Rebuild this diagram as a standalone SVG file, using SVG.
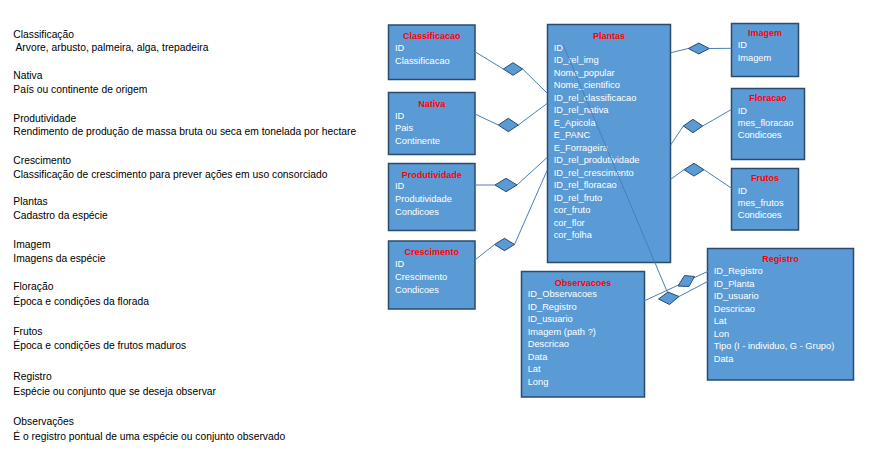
<svg xmlns="http://www.w3.org/2000/svg" width="879" height="454" viewBox="0 0 879 454">
<style>
.bg{fill:#fff}
.box{fill:#5B9BD5;stroke:#2A4A6E;stroke-width:1.5}
.t{font-family:"Liberation Sans",Arial,sans-serif;font-size:9px;font-weight:bold;fill:#FF0000;text-anchor:middle}
.f{font-family:"Liberation Sans",Arial,sans-serif;font-size:9.3px;fill:#FFFFFF}
.d{font-family:"Liberation Sans",Arial,sans-serif;font-size:10.3px;fill:#000000}
.c{stroke:#4A7EBB;stroke-width:1;fill:none}
.dm{fill:#5B9BD5;stroke:#2A4A6E;stroke-width:1}
</style>
<rect class="bg" x="0" y="0" width="879" height="454"/>
<g id="legend">
<text class="d" x="13.3" y="37.5">Classificação</text>
<text class="d" x="15.5" y="51">Arvore, arbusto, palmeira, alga, trepadeira</text>
<text class="d" x="13.3" y="79">Nativa</text>
<text class="d" x="13.3" y="92.5">País ou continente de origem</text>
<text class="d" x="13.3" y="121.5">Produtividade</text>
<text class="d" x="13.3" y="135">Rendimento de produção de massa bruta ou seca em tonelada por hectare</text>
<text class="d" x="13.3" y="163.5">Crescimento</text>
<text class="d" x="13.3" y="177.5">Classificação de crescimento para prever ações em uso consorciado</text>
<text class="d" x="13.3" y="205">Plantas</text>
<text class="d" x="13.3" y="219">Cadastro da espécie</text>
<text class="d" x="13.3" y="247.5">Imagem</text>
<text class="d" x="13.3" y="261.5">Imagens da espécie</text>
<text class="d" x="13.3" y="290">Floração</text>
<text class="d" x="13.3" y="305">Época e condições da florada</text>
<text class="d" x="13.3" y="334.5">Frutos</text>
<text class="d" x="13.3" y="349">Época e condições de frutos maduros</text>
<text class="d" x="13.3" y="380">Registro</text>
<text class="d" x="13.3" y="395">Espécie ou conjunto que se deseja observar</text>
<text class="d" x="13.3" y="424.5">Observações</text>
<text class="d" x="13.3" y="439.5">É o registro pontual de uma espécie ou conjunto observado</text>
</g>
<g id="classificacao">
<rect class="box" x="388.5" y="25" width="86.5" height="54.5"/>
<text class="t" x="431.7" y="39">Classificacao</text>
<text class="f" x="395" y="51">ID</text>
<text class="f" x="395" y="64">Classificacao</text>
</g>
<g id="nativa">
<rect class="box" x="388.5" y="92.5" width="86.5" height="62"/>
<text class="t" x="431.7" y="106.5">Nativa</text>
<text class="f" x="395" y="118.5">ID</text>
<text class="f" x="395" y="131">Pais</text>
<text class="f" x="395" y="143.5">Continente</text>
</g>
<g id="produtividade">
<rect class="box" x="388.5" y="163.5" width="86.5" height="67"/>
<text class="t" x="431.7" y="177.5">Produtividade</text>
<text class="f" x="395" y="189">ID</text>
<text class="f" x="395" y="202">Produtividade</text>
<text class="f" x="395" y="214.5">Condicoes</text>
</g>
<g id="crescimento">
<rect class="box" x="388.5" y="241" width="86.5" height="68"/>
<text class="t" x="431.7" y="255">Crescimento</text>
<text class="f" x="395" y="267">ID</text>
<text class="f" x="395" y="280">Crescimento</text>
<text class="f" x="395" y="292.5">Condicoes</text>
</g>
<g id="plantas">
<rect class="box" x="547.5" y="24.5" width="123" height="238"/>
<text class="t" x="609" y="38.5">Plantas</text>
<text class="f" x="553.7" y="50.5">ID</text>
<text class="f" x="553.7" y="63">ID_rel_img</text>
<text class="f" x="553.7" y="75.5">Nome_popular</text>
<text class="f" x="553.7" y="88">Nome_cientifico</text>
<text class="f" x="553.7" y="100.5">ID_rel_classificacao</text>
<text class="f" x="553.7" y="113">ID_rel_nativa</text>
<text class="f" x="553.7" y="125.5">E_Apicola</text>
<text class="f" x="553.7" y="138">E_PANC</text>
<text class="f" x="553.7" y="150.5">E_Forrageira</text>
<text class="f" x="553.7" y="163">ID_rel_produtividade</text>
<text class="f" x="553.7" y="175.5">ID_rel_crescimento</text>
<text class="f" x="553.7" y="188">ID_rel_floracao</text>
<text class="f" x="553.7" y="200.5">ID_rel_fruto</text>
<text class="f" x="553.7" y="213">cor_fruto</text>
<text class="f" x="553.7" y="225.5">cor_flor</text>
<text class="f" x="553.7" y="238">cor_folha</text>
</g>
<g id="imagem">
<rect class="box" x="731.5" y="23.5" width="67" height="53"/>
<text class="t" x="765" y="36">Imagem</text>
<text class="f" x="737.7" y="48">ID</text>
<text class="f" x="737.7" y="61">Imagem</text>
</g>
<g id="floracao">
<rect class="box" x="731.5" y="88.5" width="73" height="71"/>
<text class="t" x="768" y="101">Floracao</text>
<text class="f" x="737.7" y="113.5">ID</text>
<text class="f" x="737.7" y="126">mes_floracao</text>
<text class="f" x="737.7" y="138">Condicoes</text>
</g>
<g id="frutos">
<rect class="box" x="731.5" y="168.5" width="67" height="61.5"/>
<text class="t" x="765" y="181">Frutos</text>
<text class="f" x="737.7" y="193.5">ID</text>
<text class="f" x="737.7" y="206">mes_frutos</text>
<text class="f" x="737.7" y="218">Condicoes</text>
</g>
<g id="observacoes">
<rect class="box" x="521.5" y="271.5" width="123" height="125.5"/>
<text class="t" x="583" y="285.5">Observacoes</text>
<text class="f" x="527.7" y="297">ID_Observacoes</text>
<text class="f" x="527.7" y="310">ID_Registro</text>
<text class="f" x="527.7" y="322.3">ID_usuario</text>
<text class="f" x="527.7" y="335.3">Imagem (path ?)</text>
<text class="f" x="527.7" y="347">Descricao</text>
<text class="f" x="527.7" y="360.3">Data</text>
<text class="f" x="527.7" y="372">Lat</text>
<text class="f" x="527.7" y="385.3">Long</text>
</g>
<g id="registro">
<rect class="box" x="707.5" y="248.5" width="146" height="131.5"/>
<text class="t" x="780.5" y="262.3">Registro</text>
<text class="f" x="713.7" y="274.3">ID_Registro</text>
<text class="f" x="713.7" y="287">ID_Planta</text>
<text class="f" x="713.7" y="299.3">ID_usuario</text>
<text class="f" x="713.7" y="312.3">Descricao</text>
<text class="f" x="713.7" y="324">Lat</text>
<text class="f" x="713.7" y="337">Lon</text>
<text class="f" x="713.7" y="349.3">Tipo (I - individuo, G - Grupo)</text>
<text class="f" x="713.7" y="362">Data</text>
</g>
<g id="connectors">
<polyline class="c" points="475,51.7 503.3,69"/>
<polyline class="c" points="522.7,69 547.3,93.3"/>
<polyline class="c" points="475,114 498.3,125"/>
<polyline class="c" points="518.3,125 547.3,103.3"/>
<polyline class="c" points="475,185 495,185"/>
<polyline class="c" points="517,185 547.3,157.3"/>
<polyline class="c" points="475,260 494.5,244.5"/>
<polyline class="c" points="514.5,244.5 547.3,170"/>
<polyline class="c" points="670.7,52.7 688.3,48.5"/>
<polyline class="c" points="709.3,48.5 731.7,48.3"/>
<polyline class="c" points="670.7,145 683.3,126"/>
<polyline class="c" points="702.7,126 731.7,109.3"/>
<polyline class="c" points="670.7,179.3 684,169.7"/>
<polyline class="c" points="704,169.7 731.7,188.3"/>
<polyline class="c" points="563.3,45 667.5,292.5"/>
<polyline class="c" points="643.3,301.3 708,271.3"/>
<polyline class="c" points="679,296.5 708,281.3"/>
<polygon class="dm" points="503.3,69 513,62.7 522.7,69 513,75.3"/>
<polygon class="dm" points="498.3,125 508.3,118.3 518.3,125 508.3,131.7"/>
<polygon class="dm" points="495,185 506,178.3 517,185 506,191.7"/>
<polygon class="dm" points="494.5,244.5 504.5,238.3 514.5,244.5 504.5,250.7"/>
<polygon class="dm" points="688.3,48.5 698.8,43.1 709.3,48.5 698.8,53.9"/>
<polygon class="dm" points="683.3,126 693,119.3 702.7,126 693,132.7"/>
<polygon class="dm" points="684,169.7 694,163.3 704,169.7 694,176.1"/>
<polygon class="dm" points="658.5,299 668,292 679,296.5 669.5,304.5"/>
<polygon class="dm" points="678,286 684.5,275.5 694.5,276.5 689,286.5"/>
</g>
</svg>
